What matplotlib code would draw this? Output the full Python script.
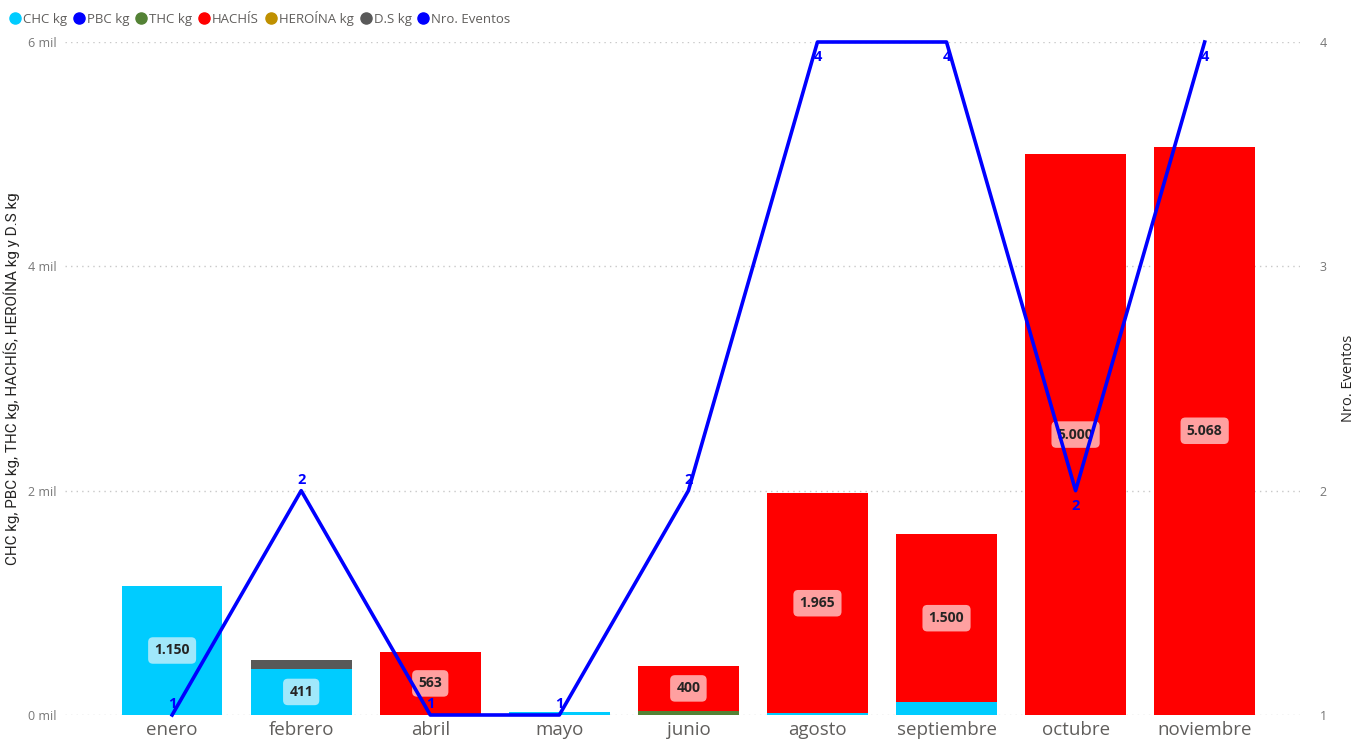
import numpy as np
import matplotlib
matplotlib.use("Agg")
from matplotlib import pyplot as plt
from matplotlib.lines import Line2D

plt.rcParams['font.family'] = ['Open Sans', 'DejaVu Sans']

# data
months = ['enero', 'febrero', 'abril', 'mayo', 'junio', 'agosto', 'septiembre', 'octubre', 'noviembre']
chc = [1150, 411, 0, 30, 0, 14, 113, 0, 0]
pbc = [0, 0, 0, 0, 0, 0, 0, 0, 0]
thc = [0, 0, 0, 0, 37, 0, 0, 0, 0]
hachis = [0, 0, 563, 0, 400, 1965, 1500, 5000, 5068]
heroina = [0, 0, 0, 0, 0, 0, 0, 0, 0]
ds = [0, 80, 0, 0, 0, 0, 0, 0, 0]
eventos = [1, 2, 1, 1, 2, 4, 4, 2, 4]

series = [
    ('CHC kg', chc, '#00CCFF', '#b3ecfb'),
    ('PBC kg', pbc, '#0000FF', '#b3b3ff'),
    ('THC kg', thc, '#548235', '#cbdac2'),
    ('HACHÍS', hachis, '#FF0000', '#ffb3b3'),
    ('HEROÍNA kg', heroina, '#BF9000', '#ecdeb3'),
    ('D.S kg', ds, '#595959', '#cdcdcd'),
]

fig = plt.figure(figsize=(13.6, 7.42), dpi=100)
ax = fig.add_axes([0.0478, 0.0364, 0.9082, 0.907])
x = np.arange(len(months))
bottom = np.zeros(len(months))

for name, vals, col, lab_col in series:
    vals = np.array(vals, dtype=float)
    ax.bar(x, vals, 0.78, bottom=bottom, color=col, zorder=2)
    for i, v in enumerate(vals):
        if v >= 300:
            txt = '{:,}'.format(int(v)).replace(',', '.')
            ax.text(x[i], bottom[i] + v / 2, txt, ha='center', va='center',
                    fontsize=10, fontweight='bold', color='#252423', zorder=5,
                    bbox=dict(boxstyle='round,pad=0.45,rounding_size=0.35',
                              fc=lab_col, ec='none', alpha=0.9))
    bottom += vals

ax.set_xlim(-0.83, 8.74)
ax.set_ylim(0, 6000)
ax.set_yticks([0, 2000, 4000, 6000])
ax.set_yticklabels(['0 mil', '2 mil', '4 mil', '6 mil'])
ax.set_xticks(x)
ax.set_xticklabels(months)
ax.tick_params(axis='x', length=0, labelsize=13.5, labelcolor='#605e5c', pad=4)
ax.tick_params(axis='y', length=0, labelsize=9, labelcolor='#777777', pad=6)
ax.grid(axis='y', color='#c8c8c8', linestyle=(0, (1, 3)), linewidth=1, zorder=0)
for s in ax.spines.values():
    s.set_visible(False)
ax.set_ylabel('CHC kg, PBC kg, THC kg, HACHÍS, HEROÍNA kg y D.S kg',
              fontsize=11, color='#252423', labelpad=6, family='Roboto')

ax2 = ax.twinx()
ax2.plot(x, eventos, color='#0000FF', linewidth=2.6, zorder=4, clip_on=False)
ax2.set_ylim(1, 4)
ax2.set_yticks([1, 2, 3, 4])
ax2.tick_params(axis='y', length=0, labelsize=9, labelcolor='#777777', pad=14)
for s in ax2.spines.values():
    s.set_visible(False)
ax2.set_ylabel('Nro. Eventos', fontsize=10.5, color='#252423', labelpad=10)

top = max(eventos)
for i, v in enumerate(eventos):
    below = v == top
    if 0 < i < len(eventos) - 1 and eventos[i - 1] > v and eventos[i + 1] > v:
        below = True
    ax2.annotate(str(v), (x[i], v), xytext=(0, -11 if below else 8),
                 textcoords='offset points', ha='center',
                 va='center', fontsize=10.5, fontweight='bold', color='#0000FF',
                 zorder=6, annotation_clip=False)

handles = [Line2D([], [], marker='o', linestyle='none', markersize=8,
                  markerfacecolor=c, markeredgecolor=c) for _, _, c, _ in series]
handles.append(Line2D([], [], marker='o', linestyle='none', markersize=8,
                      markerfacecolor='#0000FF', markeredgecolor='#0000FF'))
labels = [s[0] for s in series] + ['Nro. Eventos']
fig.legend(handles, labels, loc='upper left', bbox_to_anchor=(0.0, 0.998), ncol=7,
           frameon=False, fontsize=9.5, labelcolor='#605e5c', handletextpad=0.15,
           columnspacing=0.45, handlelength=0.9, borderaxespad=0.3)

fig.savefig('out.png', dpi=100)
